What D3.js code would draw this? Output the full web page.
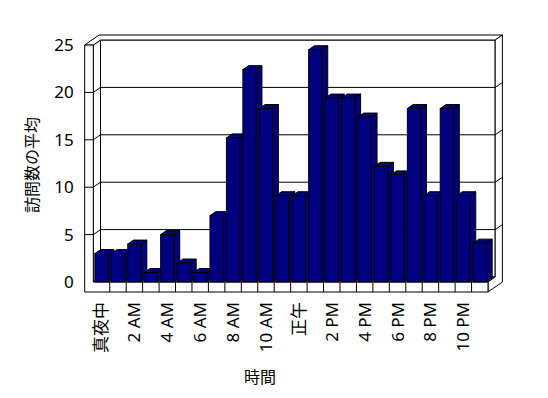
<!DOCTYPE html>
<html>
<head>
<meta charset="utf-8">
<script src="https://cdn.jsdelivr.net/npm/d3@7"></script>
<style>
  body { margin: 0; background: #fff; }
  svg text { font-family: "Noto Sans", "Noto Sans CJK JP", sans-serif; fill: #000; }
</style>
</head>
<body>
<div id="chart"></div>
<script>
// hours of the day (0 = midnight)
const hours = d3.range(24);
// average visits per hour
const visits = [3, 3, 4, 1, 5, 2, 1, 7, 15.2, 22.4, 18.3, 9.1,
                9.1, 24.5, 19.4, 19.4, 17.4, 12.2, 11.3, 18.3, 9.1, 18.3, 9.1, 4.1];
// labels shown under every second hour
const tickHours = [0, 2, 4, 6, 8, 10, 12, 14, 16, 18, 20, 22];
const tickLabels = ['真夜中', '2 AM', '4 AM', '6 AM', '8 AM', '10 AM',
                    '正午', '2 PM', '4 PM', '6 PM', '8 PM', '10 PM'];
const yTicks = [0, 5, 10, 15, 20, 25];

const width = 548, height = 398;
const x0 = 93.3, x1 = 488;      // front plane of the plot
const wallT = 8.6, floorT = 10; // wall / floor thickness
const dx = 7.2, dy = -5;        // one unit of depth
const barDepth = 0.8;
const labelFont = '"Noto Sans", "Noto Sans CJK JP", sans-serif';

const svg = d3.select('#chart').append('svg')
  .attr('width', width)
  .attr('height', height);

const x = d3.scaleBand().domain(hours).range([x0, x1])
  .paddingInner(0.19).paddingOuter(0.095);
const xCat = d3.scaleBand().domain(hours).range([x0, x1]);
const y = d3.scaleLinear().domain([0, 25]).range([282, 45]);

const Y0 = y(0), Y25 = y(25);
const poly = pts => pts.map(p => p.join(',')).join(' ');

const walls = svg.append('g')
  .attr('fill', '#fff')
  .attr('stroke', '#000')
  .attr('stroke-width', 1)
  .attr('stroke-linejoin', 'miter');

// back wall front face
walls.append('polygon').attr('points', poly([
  [x0 + dx, Y25 + dy], [x1 + dx, Y25 + dy], [x1 + dx, Y0 + dy], [x0 + dx, Y0 + dy]]));
// left wall inner face
walls.append('polygon').attr('points', poly([
  [x0, Y25], [x0 + dx, Y25 + dy], [x0 + dx, Y0 + dy], [x0, Y0]]));
// floor top
walls.append('polygon').attr('points', poly([
  [x0, Y0], [x1, Y0], [x1 + dx, Y0 + dy], [x0 + dx, Y0 + dy]]));
// top of left + back wall
walls.append('polygon').attr('points', poly([
  [x0 - wallT, Y25], [x0, Y25], [x0 + dx, Y25 + dy], [x1 + dx, Y25 + dy],
  [x1 + 2 * dx, Y25 + 2 * dy], [x0 - wallT + 2 * dx, Y25 + 2 * dy]]));
// right end of floor + back wall
walls.append('polygon').attr('points', poly([
  [x1, Y0 + floorT], [x1, Y0], [x1 + dx, Y0 + dy], [x1 + dx, Y25 + dy],
  [x1 + 2 * dx, Y25 + 2 * dy], [x1 + 2 * dx, Y0 + floorT + 2 * dy]]));
// front of left wall + floor
walls.append('polygon').attr('points', poly([
  [x0 - wallT, Y25], [x0, Y25], [x0, Y0], [x1, Y0],
  [x1, Y0 + floorT], [x0 - wallT, Y0 + floorT]]));

// gridlines wrapping the walls
const grid = svg.append('g').attr('fill', 'none').attr('stroke', '#000');
yTicks.filter(v => v > 0 && v < 25).forEach(v => {
  const yy = y(v);
  grid.append('polyline').attr('points', poly([
    [x0 - wallT, yy], [x0, yy], [x0 + dx, yy + dy],
    [x1 + dx, yy + dy], [x1 + 2 * dx, yy + 2 * dy]]));
});

// category separators on the floor front
grid.selectAll('line.sep')
  .data(hours.slice(1))
  .join('line')
  .attr('class', 'sep')
  .attr('x1', d => xCat(d)).attr('x2', d => xCat(d))
  .attr('y1', Y0).attr('y2', Y0 + floorT);

// bars
const bdx = dx * barDepth, bdy = dy * barDepth;
const bw = x.bandwidth();
const bars = svg.append('g')
  .attr('fill', '#000080')
  .attr('stroke', '#000')
  .attr('stroke-linejoin', 'miter');

hours.forEach((h, i) => {
  const bx = x(h), top = y(visits[i]);
  const g = bars.append('g');
  g.append('polygon').attr('points', poly([
    [bx + bw, top], [bx + bw + bdx, top + bdy], [bx + bw + bdx, Y0 + bdy], [bx + bw, Y0]]));
  g.append('polygon').attr('points', poly([
    [bx, top], [bx + bdx, top + bdy], [bx + bw + bdx, top + bdy], [bx + bw, top]]));
  g.append('rect')
    .attr('x', bx).attr('y', top)
    .attr('width', bw).attr('height', Y0 - top);
});

// y axis labels
const yAxis = svg.append('g')
  .attr('transform', `translate(${x0 - wallT},0)`)
  .call(d3.axisLeft(y).tickValues(yTicks).tickSize(0).tickPadding(11));
yAxis.select('.domain').remove();
yAxis.selectAll('text')
  .style('font-size', '17px')
  .style('font-family', labelFont);

// x axis labels
const xAxis = svg.append('g')
  .attr('transform', `translate(0,${Y0 + floorT})`)
  .call(d3.axisBottom(xCat)
    .tickValues(tickHours)
    .tickSize(0)
    .tickFormat(d => tickLabels[tickHours.indexOf(d)]));
xAxis.select('.domain').remove();
xAxis.selectAll('text')
  .attr('transform', 'rotate(-90)')
  .attr('text-anchor', 'end')
  .attr('x', -10)
  .attr('y', 0)
  .attr('dy', '0.35em')
  .style('font-size', '17px')
  .style('font-family', labelFont);

// axis titles
svg.append('text')
  .attr('transform', 'translate(32,165) rotate(-90)')
  .attr('text-anchor', 'middle')
  .attr('dominant-baseline', 'central')
  .style('font-size', '16px')
  .text('訪問数の平均');

svg.append('text')
  .attr('x', 260)
  .attr('y', 377)
  .attr('text-anchor', 'middle')
  .attr('dominant-baseline', 'central')
  .style('font-size', '16px')
  .text('時間');
</script>
</body>
</html>
